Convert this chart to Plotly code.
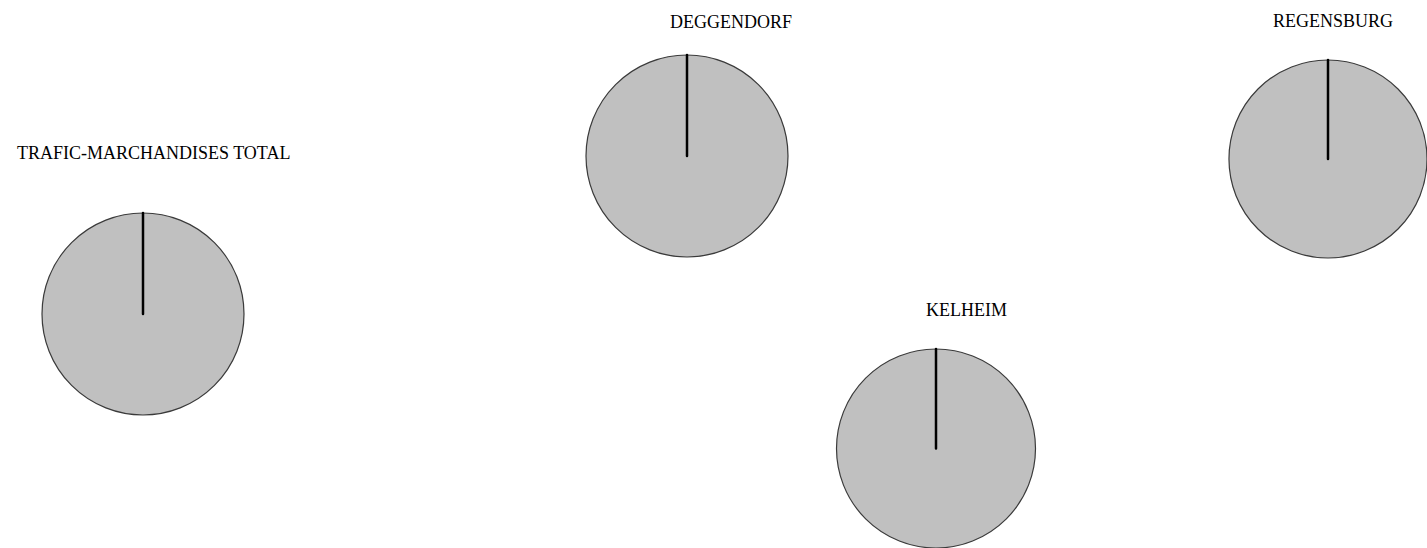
import plotly.graph_objects as go

# one pie per area; every pie is a single full category
regions = ["TRAFIC-MARCHANDISES TOTAL", "DEGGENDORF", "KELHEIM", "REGENSBURG"]
slice_labels = ["Marchandises", "Autres"]
main_values = [100, 100, 100, 100]
other_values = [0, 0, 0, 0]

W, H = 1427, 548
# pie centre (px) and diameter for each region
centres = [(143, 314), (687, 156), (936, 450), (1330, 159)]
diam = 202


def dom(cx, cy, d):
    x0 = max(cx - d / 2, 0) / W
    x1 = min(cx + d / 2, W) / W
    y0 = max(H - (cy + d / 2), 0) / H
    y1 = min(H - (cy - d / 2), H) / H
    return dict(x=[x0, x1], y=[y0, y1])


fig = go.Figure()
for name, v_main, v_other, (cx, cy) in zip(regions, main_values, other_values, centres):
    fig.add_trace(go.Pie(
        labels=slice_labels,
        values=[v_main, v_other],
        name=name,
        domain=dom(cx, cy, diam),
        sort=False,
        direction="clockwise",
        textinfo="none",
        hoverinfo="label+value+percent",
        marker=dict(colors=["#c0c0c0", "#000000"],
                    line=dict(color=["#3a3a3a", "#000000"], width=[1.2, 2.5])),
        showlegend=False,
    ))

# region names above the pies
label_pos = [(153, 153), (731, 22), (966, 310), (1333, 21)]
for name, (lx, ly) in zip(regions, label_pos):
    fig.add_annotation(text=name, x=lx / W, y=1 - ly / H, xref="paper", yref="paper",
                       showarrow=False, xanchor="center", yanchor="middle",
                       font=dict(family="Liberation Serif", size=18, color="#000000"))

fig.update_layout(width=W, height=H, margin=dict(l=0, r=0, t=0, b=0),
                  paper_bgcolor="white", plot_bgcolor="white")
fig.write_html("out.html", config={"displayModeBar": False},
               post_script="document.body.style.margin='0';")
